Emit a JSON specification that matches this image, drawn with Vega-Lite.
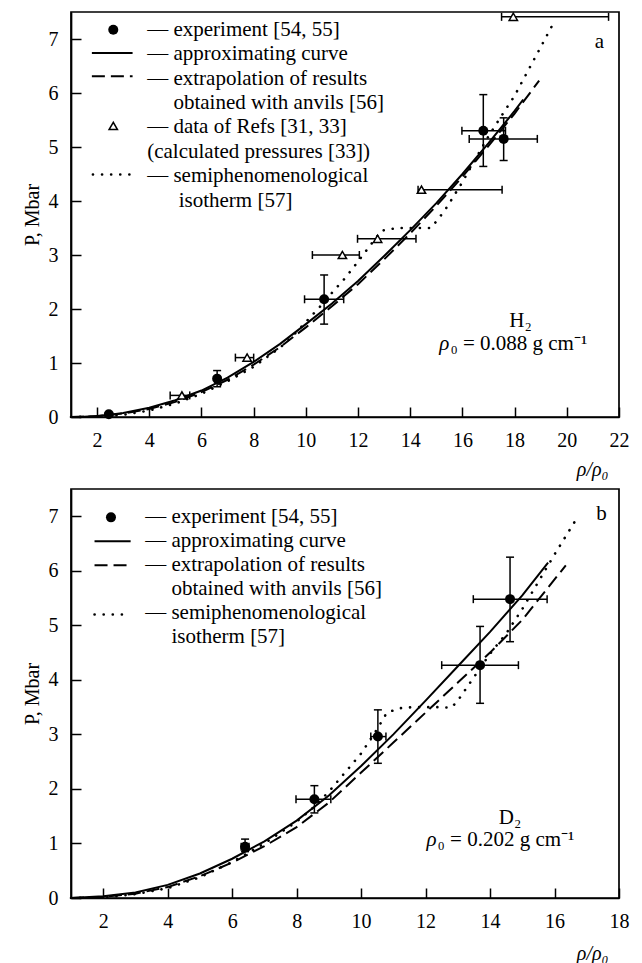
{
"$schema":"https://vega.github.io/schema/vega-lite/v6.json",
"padding":{"left":21,"top":9,"right":4,"bottom":4},
"spacing":8,
"config":{
 "font":"Liberation Serif",
 "view":{"stroke":"black","strokeWidth":1.7},
 "axis":{"grid":false,"domainColor":"black","domainWidth":1.7,"tickColor":"black","tickWidth":1.5,"tickSize":-10,"labelFont":"Liberation Serif","labelFontSize":20,"labelColor":"black","labelFlush":false,"labelOverlap":false,"format":"d","titleFont":"Liberation Serif","titleFontSize":20,"titleFontWeight":"normal","titleColor":"black"},
 "axisX":{"labelPadding":23},
 "axisY":{"labelPadding":23,"titlePadding":6}
},
"datasets":{
 "h2_approx":[{"x":1,"y":0},{"x":1.5,"y":0.005},{"x":2,"y":0.02},{"x":2.5,"y":0.04},{"x":3,"y":0.075},{"x":4,"y":0.17},{"x":5,"y":0.31},{"x":6,"y":0.49},{"x":7,"y":0.73},{"x":8,"y":1.02},{"x":9,"y":1.35},{"x":10,"y":1.72},{"x":11,"y":2.1},{"x":12,"y":2.52},{"x":13,"y":2.98},{"x":14,"y":3.46},{"x":15,"y":3.96},{"x":16,"y":4.5},{"x":17,"y":5.07},{"x":18,"y":5.67},{"x":18.33,"y":5.88}],
 "h2_anvil":[{"x":1,"y":0},{"x":2,"y":0.015},{"x":3,"y":0.065},{"x":4,"y":0.15},{"x":5,"y":0.28},{"x":6,"y":0.46},{"x":7,"y":0.69},{"x":8,"y":0.97},{"x":9,"y":1.29},{"x":10,"y":1.66},{"x":11,"y":2.05},{"x":12,"y":2.46},{"x":13,"y":2.92},{"x":14,"y":3.4},{"x":15,"y":3.91},{"x":16,"y":4.45},{"x":17,"y":5.02},{"x":18,"y":5.62},{"x":18.94,"y":6.23}],
 "h2_iso":[{"x":1,"y":0},{"x":2,"y":0.005},{"x":3,"y":0.04},{"x":4,"y":0.12},{"x":5,"y":0.25},{"x":6,"y":0.43},{"x":7,"y":0.66},{"x":8,"y":0.93},{"x":9,"y":1.28},{"x":9.5,"y":1.5},{"x":10,"y":1.76},{"x":10.5,"y":2.02},{"x":11,"y":2.3},{"x":11.5,"y":2.57},{"x":12,"y":2.88},{"x":12.5,"y":3.2},{"x":12.9,"y":3.45},{"x":13.5,"y":3.5},{"x":14,"y":3.5},{"x":14.5,"y":3.5},{"x":14.8,"y":3.5},{"x":15.04,"y":3.65},{"x":15.3,"y":3.81},{"x":15.55,"y":4.0},{"x":16,"y":4.35},{"x":16.5,"y":4.78},{"x":17,"y":5.2},{"x":17.5,"y":5.58},{"x":18,"y":5.95},{"x":18.5,"y":6.4},{"x":19,"y":6.85},{"x":19.45,"y":7.26}],
 "h2_exp":[{"x":2.45,"y":0.05},{"x":6.6,"y":0.71,"ylo":0.56,"yhi":0.86},{"x":10.7,"y":2.18,"ylo":1.72,"yhi":2.63,"xlo":9.95,"xhi":11.45},{"x":16.8,"y":5.3,"ylo":4.64,"yhi":5.97,"xlo":15.98,"xhi":17.65},{"x":17.58,"y":5.15,"ylo":4.75,"yhi":5.54,"xlo":16.26,"xhi":18.87}],
 "h2_tri":[{"x":5.25,"y":0.4,"xlo":4.8,"xhi":5.55},{"x":7.75,"y":1.1,"xlo":7.3,"xhi":8.0},{"x":11.4,"y":3.0,"xlo":10.25,"xhi":12.05},{"x":12.75,"y":3.3,"xlo":11.98,"xhi":14.22},{"x":14.43,"y":4.21,"xlo":14.3,"xhi":17.52},{"x":17.95,"y":7.41,"xlo":17.5,"xhi":21.6}],
 "d2_approx":[{"x":1,"y":0},{"x":2,"y":0.03},{"x":3,"y":0.1},{"x":4,"y":0.24},{"x":5,"y":0.45},{"x":6,"y":0.72},{"x":7,"y":1.04},{"x":8,"y":1.42},{"x":9,"y":1.88},{"x":10,"y":2.42},{"x":11,"y":3.0},{"x":12,"y":3.62},{"x":13,"y":4.25},{"x":14,"y":4.88},{"x":15,"y":5.55},{"x":15.8,"y":6.15}],
 "d2_anvil":[{"x":1,"y":0},{"x":2,"y":0.02},{"x":3,"y":0.08},{"x":4,"y":0.2},{"x":5,"y":0.4},{"x":6,"y":0.65},{"x":7,"y":0.95},{"x":8,"y":1.3},{"x":9,"y":1.75},{"x":10,"y":2.3},{"x":11,"y":2.85},{"x":12,"y":3.4},{"x":13,"y":3.95},{"x":14,"y":4.5},{"x":15,"y":5.1},{"x":16.35,"y":6.1}],
 "d2_iso":[{"x":1,"y":0},{"x":2,"y":0.01},{"x":3,"y":0.07},{"x":4,"y":0.18},{"x":5,"y":0.38},{"x":6,"y":0.66},{"x":7,"y":1.0},{"x":8,"y":1.4},{"x":8.5,"y":1.65},{"x":9,"y":1.95},{"x":9.5,"y":2.3},{"x":10,"y":2.65},{"x":10.5,"y":3.1},{"x":10.8,"y":3.4},{"x":11.2,"y":3.48},{"x":11.6,"y":3.5},{"x":12,"y":3.5},{"x":12.4,"y":3.5},{"x":12.8,"y":3.49},{"x":13.0,"y":3.62},{"x":13.5,"y":4.05},{"x":14,"y":4.48},{"x":14.5,"y":4.85},{"x":15,"y":5.3},{"x":15.5,"y":5.8},{"x":16,"y":6.3},{"x":16.7,"y":6.97}],
 "d2_exp":[{"x":6.4,"y":0.94,"ylo":0.85,"yhi":1.08,"xlo":6.28,"xhi":6.52},{"x":8.55,"y":1.81,"ylo":1.56,"yhi":2.06,"xlo":7.98,"xhi":9.06},{"x":10.52,"y":2.96,"ylo":2.47,"yhi":3.45,"xlo":10.3,"xhi":10.77},{"x":13.69,"y":4.27,"ylo":3.57,"yhi":4.98,"xlo":12.5,"xhi":14.88},{"x":14.62,"y":5.48,"ylo":4.7,"yhi":6.25,"xlo":13.48,"xhi":15.77}]
},
"vconcat":[
{
 "width":548,"height":405,
 "layer":[
  {"data":{"name":"h2_approx"},"mark":{"type":"line","color":"black","strokeWidth":2},
   "encoding":{"x":{"field":"x","type":"quantitative","scale":{"domain":[1,22],"nice":false,"zero":false},"axis":{"values":[2,4,6,8,10,12,14,16,18,20,22],"title":"ρ/ρ₀","titleFontStyle":"italic","titleAnchor":"end","titleAlign":"right","titleX":537,"titleY":52,"titleBaseline":"middle"}},
   "y":{"field":"y","type":"quantitative","scale":{"domain":[0,7.5],"nice":false,"zero":false},"axis":{"values":[0,1,2,3,4,5,6,7],"title":"P, Mbar"}}}},
  {"data":{"name":"h2_anvil"},"mark":{"type":"line","color":"black","strokeWidth":2,"strokeDash":[13,6]},"encoding":{"x":{"field":"x","type":"quantitative"},"y":{"field":"y","type":"quantitative"}}},
  {"data":{"name":"h2_iso"},"mark":{"type":"line","color":"black","strokeWidth":2.6,"strokeDash":[0.1,9],"strokeCap":"round"},"encoding":{"x":{"field":"x","type":"quantitative"},"y":{"field":"y","type":"quantitative"}}},
  {"data":{"name":"h2_exp"},"transform":[{"filter":"isValid(datum.ylo)"}],"mark":{"type":"rule","color":"black","strokeWidth":1.5},"encoding":{"x":{"field":"x","type":"quantitative"},"y":{"field":"ylo","type":"quantitative"},"y2":{"field":"yhi"}}},
  {"data":{"name":"h2_exp"},"transform":[{"filter":"isValid(datum.ylo)"}],"mark":{"type":"tick","orient":"horizontal","color":"black","opacity":1,"size":8,"thickness":1.5},"encoding":{"x":{"field":"x","type":"quantitative"},"y":{"field":"ylo","type":"quantitative"}}},
  {"data":{"name":"h2_exp"},"transform":[{"filter":"isValid(datum.yhi)"}],"mark":{"type":"tick","orient":"horizontal","color":"black","opacity":1,"size":8,"thickness":1.5},"encoding":{"x":{"field":"x","type":"quantitative"},"y":{"field":"yhi","type":"quantitative"}}},
  {"data":{"name":"h2_exp"},"transform":[{"filter":"isValid(datum.xlo)"}],"mark":{"type":"rule","color":"black","strokeWidth":1.5},"encoding":{"x":{"field":"xlo","type":"quantitative"},"x2":{"field":"xhi"},"y":{"field":"y","type":"quantitative"}}},
  {"data":{"name":"h2_exp"},"transform":[{"filter":"isValid(datum.xlo)"}],"mark":{"type":"tick","orient":"vertical","color":"black","opacity":1,"size":8,"thickness":1.5},"encoding":{"x":{"field":"xlo","type":"quantitative"},"y":{"field":"y","type":"quantitative"}}},
  {"data":{"name":"h2_exp"},"transform":[{"filter":"isValid(datum.xhi)"}],"mark":{"type":"tick","orient":"vertical","color":"black","opacity":1,"size":8,"thickness":1.5},"encoding":{"x":{"field":"xhi","type":"quantitative"},"y":{"field":"y","type":"quantitative"}}},
  {"data":{"name":"h2_tri"},"mark":{"type":"rule","color":"black","strokeWidth":1.5},"encoding":{"x":{"field":"xlo","type":"quantitative"},"x2":{"field":"xhi"},"y":{"field":"y","type":"quantitative"}}},
  {"data":{"name":"h2_tri"},"mark":{"type":"tick","orient":"vertical","color":"black","opacity":1,"size":8,"thickness":1.5},"encoding":{"x":{"field":"xlo","type":"quantitative"},"y":{"field":"y","type":"quantitative"}}},
  {"data":{"name":"h2_tri"},"mark":{"type":"tick","orient":"vertical","color":"black","opacity":1,"size":8,"thickness":1.5},"encoding":{"x":{"field":"xhi","type":"quantitative"},"y":{"field":"y","type":"quantitative"}}},
  {"data":{"name":"h2_exp"},"mark":{"type":"point","shape":"circle","filled":true,"color":"black","opacity":1,"size":100},"encoding":{"x":{"field":"x","type":"quantitative"},"y":{"field":"y","type":"quantitative"}}},
  {"data":{"name":"h2_tri"},"mark":{"type":"point","shape":"triangle-up","filled":true,"fill":"white","stroke":"black","strokeWidth":1.5,"opacity":1,"size":70},"encoding":{"x":{"field":"x","type":"quantitative"},"y":{"field":"y","type":"quantitative"}}},
  {"data":{"values":[{}]},"mark":{"type":"point","shape":"circle","filled":true,"color":"black","opacity":1,"size":100},"encoding":{"x":{"datum":2.62},"y":{"datum":7.17}}},
  {"data":{"values":[{}]},"mark":{"type":"rule","color":"black","strokeWidth":2},"encoding":{"x":{"datum":1.8},"x2":{"datum":3.36},"y":{"datum":6.74}}},
  {"data":{"values":[{}]},"mark":{"type":"rule","color":"black","strokeWidth":2,"strokeDash":[13,6]},"encoding":{"x":{"datum":1.8},"x2":{"datum":3.36},"y":{"datum":6.31}}},
  {"data":{"values":[{}]},"mark":{"type":"point","shape":"triangle-up","filled":true,"fill":"white","stroke":"black","strokeWidth":1.5,"opacity":1,"size":70},"encoding":{"x":{"datum":2.62},"y":{"datum":5.39}}},
  {"data":{"values":[{}]},"mark":{"type":"rule","color":"black","strokeWidth":2.6,"strokeDash":[0.1,9],"strokeCap":"round"},"encoding":{"x":{"datum":1.84},"x2":{"datum":3.26},"y":{"datum":4.49}}},
  {"data":{"values":[{}]},"mark":{"type":"text","font":"Liberation Serif","fontSize":21,"align":"left","baseline":"alphabetic","lineHeight":24.4,"color":"black"},"encoding":{"x":{"datum":3.92},"y":{"datum":7.06},"text":{"value":["— experiment [54, 55]","— approximating curve","— extrapolation of results","\u200b\u2003\u00a0obtained with anvils [56]","— data of Refs [31, 33]","(calculated pressures [33])","— semiphenomenological","\u200b\u2003\u00a0\u00a0isotherm [57]"]}}},
  {"data":{"values":[{}]},"mark":{"type":"text","font":"Liberation Serif","fontSize":21,"align":"center","baseline":"middle","color":"black"},"encoding":{"x":{"datum":21.25},"y":{"datum":6.95},"text":{"value":"a"}}},
  {"data":{"values":[{}]},"mark":{"type":"text","font":"Liberation Serif","fontSize":21,"align":"center","baseline":"middle","color":"black"},"encoding":{"x":{"datum":18.23},"y":{"datum":1.78},"text":{"value":"H₂"}}},
  {"data":{"values":[{}]},"mark":{"type":"text","font":"Liberation Serif","fontSize":21,"fontStyle":"italic","align":"right","baseline":"middle","color":"black"},"encoding":{"x":{"datum":15.5},"y":{"datum":1.35},"text":{"value":"ρ"}}},
  {"data":{"values":[{}]},"mark":{"type":"text","font":"Liberation Serif","fontSize":21,"align":"left","baseline":"middle","dx":1,"color":"black"},"encoding":{"x":{"datum":15.5},"y":{"datum":1.35},"text":{"value":"₀ = 0.088 g cm⁻¹"}}}
 ]
},
{
 "width":548,"height":409,
 "layer":[
  {"data":{"name":"d2_approx"},"mark":{"type":"line","color":"black","strokeWidth":2},
   "encoding":{"x":{"field":"x","type":"quantitative","scale":{"domain":[1,18],"nice":false,"zero":false},"axis":{"values":[2,4,6,8,10,12,14,16,18],"title":"ρ/ρ₀","titleFontStyle":"italic","titleAnchor":"end","titleAlign":"right","titleX":537,"titleY":55,"titleBaseline":"middle"}},
   "y":{"field":"y","type":"quantitative","scale":{"domain":[0,7.5],"nice":false,"zero":false},"axis":{"values":[0,1,2,3,4,5,6,7],"title":"P, Mbar"}}}},
  {"data":{"name":"d2_anvil"},"mark":{"type":"line","color":"black","strokeWidth":2,"strokeDash":[13,6]},"encoding":{"x":{"field":"x","type":"quantitative"},"y":{"field":"y","type":"quantitative"}}},
  {"data":{"name":"d2_iso"},"mark":{"type":"line","color":"black","strokeWidth":2.6,"strokeDash":[0.1,9],"strokeCap":"round"},"encoding":{"x":{"field":"x","type":"quantitative"},"y":{"field":"y","type":"quantitative"}}},
  {"data":{"name":"d2_exp"},"mark":{"type":"rule","color":"black","strokeWidth":1.5},"encoding":{"x":{"field":"x","type":"quantitative"},"y":{"field":"ylo","type":"quantitative"},"y2":{"field":"yhi"}}},
  {"data":{"name":"d2_exp"},"mark":{"type":"tick","orient":"horizontal","color":"black","opacity":1,"size":8,"thickness":1.5},"encoding":{"x":{"field":"x","type":"quantitative"},"y":{"field":"ylo","type":"quantitative"}}},
  {"data":{"name":"d2_exp"},"mark":{"type":"tick","orient":"horizontal","color":"black","opacity":1,"size":8,"thickness":1.5},"encoding":{"x":{"field":"x","type":"quantitative"},"y":{"field":"yhi","type":"quantitative"}}},
  {"data":{"name":"d2_exp"},"mark":{"type":"rule","color":"black","strokeWidth":1.5},"encoding":{"x":{"field":"xlo","type":"quantitative"},"x2":{"field":"xhi"},"y":{"field":"y","type":"quantitative"}}},
  {"data":{"name":"d2_exp"},"mark":{"type":"tick","orient":"vertical","color":"black","opacity":1,"size":8,"thickness":1.5},"encoding":{"x":{"field":"xlo","type":"quantitative"},"y":{"field":"y","type":"quantitative"}}},
  {"data":{"name":"d2_exp"},"mark":{"type":"tick","orient":"vertical","color":"black","opacity":1,"size":8,"thickness":1.5},"encoding":{"x":{"field":"xhi","type":"quantitative"},"y":{"field":"y","type":"quantitative"}}},
  {"data":{"name":"d2_exp"},"mark":{"type":"point","shape":"circle","filled":true,"color":"black","opacity":1,"size":100},"encoding":{"x":{"field":"x","type":"quantitative"},"y":{"field":"y","type":"quantitative"}}},
  {"data":{"values":[{}]},"mark":{"type":"point","shape":"circle","filled":true,"color":"black","opacity":1,"size":100},"encoding":{"x":{"datum":2.24},"y":{"datum":6.98}}},
  {"data":{"values":[{}]},"mark":{"type":"rule","color":"black","strokeWidth":2},"encoding":{"x":{"datum":1.73},"x2":{"datum":2.85},"y":{"datum":6.54}}},
  {"data":{"values":[{}]},"mark":{"type":"rule","color":"black","strokeWidth":2,"strokeDash":[13,6]},"encoding":{"x":{"datum":1.73},"x2":{"datum":2.85},"y":{"datum":6.1}}},
  {"data":{"values":[{}]},"mark":{"type":"rule","color":"black","strokeWidth":2.6,"strokeDash":[0.1,9],"strokeCap":"round"},"encoding":{"x":{"datum":1.73},"x2":{"datum":2.6},"y":{"datum":5.2}}},
  {"data":{"values":[{}]},"mark":{"type":"text","font":"Liberation Serif","fontSize":21,"align":"left","baseline":"alphabetic","lineHeight":23.9,"color":"black"},"encoding":{"x":{"datum":3.3},"y":{"datum":6.87},"text":{"value":["— experiment [54, 55]","— approximating curve","— extrapolation of results","\u200b\u2003\u00a0obtained with anvils [56]","— semiphenomenological","\u200b\u2003\u00a0isotherm [57]"]}}},
  {"data":{"values":[{}]},"mark":{"type":"text","font":"Liberation Serif","fontSize":21,"align":"center","baseline":"middle","color":"black"},"encoding":{"x":{"datum":17.46},"y":{"datum":7.04},"text":{"value":"b"}}},
  {"data":{"values":[{}]},"mark":{"type":"text","font":"Liberation Serif","fontSize":21,"align":"center","baseline":"middle","color":"black"},"encoding":{"x":{"datum":14.62},"y":{"datum":1.47},"text":{"value":"D₂"}}},
  {"data":{"values":[{}]},"mark":{"type":"text","font":"Liberation Serif","fontSize":21,"fontStyle":"italic","align":"right","baseline":"middle","color":"black"},"encoding":{"x":{"datum":12.34},"y":{"datum":1.07},"text":{"value":"ρ"}}},
  {"data":{"values":[{}]},"mark":{"type":"text","font":"Liberation Serif","fontSize":21,"align":"left","baseline":"middle","dx":1,"color":"black"},"encoding":{"x":{"datum":12.34},"y":{"datum":1.07},"text":{"value":"₀ = 0.202 g cm⁻¹"}}}
 ]
}
]
}
